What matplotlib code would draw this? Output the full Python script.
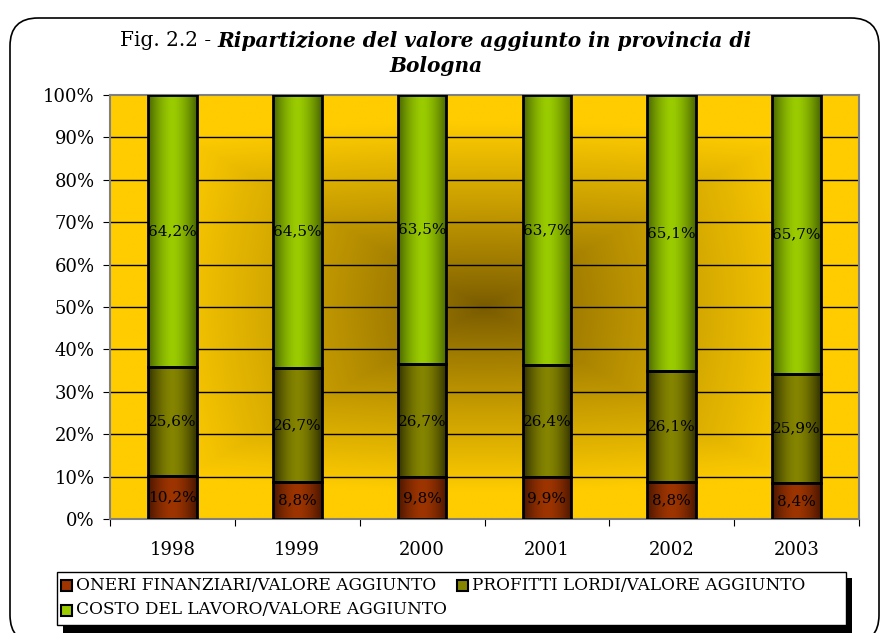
import matplotlib
matplotlib.use("Agg")
import matplotlib.pyplot as plt
import numpy as np
from matplotlib.patches import FancyBboxPatch, Rectangle
from matplotlib.colors import to_rgb

plt.rcParams["font.family"] = ["DejaVu Serif"]

YEARS = ["1998", "1999", "2000", "2001", "2002", "2003"]
ONERI = [10.2, 8.8, 9.8, 9.9, 8.8, 8.4]
PROFITTI = [25.6, 26.7, 26.7, 26.4, 26.1, 25.9]
COSTO = [64.2, 64.5, 63.5, 63.7, 65.1, 65.7]
SERIES_NAMES = [
    "ONERI FINANZIARI/VALORE AGGIUNTO",
    "PROFITTI LORDI/VALORE AGGIUNTO",
    "COSTO DEL LAVORO/VALORE AGGIUNTO",
]
# (dark edge, bright centre) for the cylinder-like shading
SERIES_COLORS = [("#4a1500", "#9e3500"), ("#333300", "#858500"), ("#4a6600", "#9acc00")]

W, H = 881, 633
fig = plt.figure(figsize=(W / 100, H / 100), dpi=100)

# canvas in pixel units for frame, title and legend
bg = fig.add_axes([0, 0, 1, 1], zorder=-1)
bg.set_xlim(0, W)
bg.set_ylim(H, 0)
bg.axis("off")
bg.add_patch(FancyBboxPatch((10, 18), 869, 625, boxstyle="round,pad=0,rounding_size=28",
                            facecolor="white", edgecolor="black", linewidth=1.2))

# title, regular + bold italic on one line
t1 = bg.text(0, 41, "Fig. 2.2 - ", fontsize=14.5, va="center", ha="left")
t2 = bg.text(0, 41, "Ripartizione del valore aggiunto in provincia di", fontsize=14.5,
             fontweight="bold", fontstyle="italic", va="center", ha="left")
bg.text(436, 66, "Bologna", fontsize=14.5, fontweight="bold", fontstyle="italic",
        va="center", ha="center")
fig.canvas.draw()
r = fig.canvas.get_renderer()
w1 = t1.get_window_extent(r).width
w2 = t2.get_window_extent(r).width
x0 = 436 - (w1 + w2) / 2
t1.set_x(x0)
t2.set_x(x0 + w1)

ax = fig.add_axes([110 / W, 1 - 519 / H, (859 - 110) / W, (519 - 95) / H])
n = len(YEARS)
ax.set_xlim(0, n)
ax.set_ylim(0, 100)

# background: rectangular gradient from dark centre to yellow edges
gx = np.linspace(-1, 1, 300)
gy = np.linspace(-1, 1, 200)
GX, GY = np.meshgrid(gx, gy)
d = 0.7 * np.maximum(np.abs(GX), np.abs(GY)) + 0.3 * np.hypot(GX, GY) / np.sqrt(2)
t = np.clip(d / 0.8, 0, 1) ** 0.9
c_mid = np.array(to_rgb("#785a00"))
c_edge = np.array(to_rgb("#ffcc00"))
img = c_mid + (c_edge - c_mid) * t[..., None]
ax.imshow(img, extent=[0, n, 0, 100], aspect="auto", zorder=0, interpolation="bilinear")

for yv in range(10, 100, 10):
    ax.axhline(yv, color="black", linewidth=1, zorder=1)

# stacked bars with horizontal shading
bw = 0.39
prof = np.linspace(0, 1, 60)
shade = 1 - np.abs(2 * prof - 1) ** 1.6
bottoms = np.zeros(n)
for vals, (dark, bright) in zip([ONERI, PROFITTI, COSTO], SERIES_COLORS):
    cd = np.array(to_rgb(dark))
    cb = np.array(to_rgb(bright))
    strip = (cd + (cb - cd) * shade[:, None])[None, :, :]
    for i, v in enumerate(vals):
        xc = i + 0.5
        ax.imshow(strip, extent=[xc - bw / 2, xc + bw / 2, bottoms[i], bottoms[i] + v],
                  aspect="auto", zorder=2, interpolation="bilinear")
        ax.text(xc, bottoms[i] + v / 2, f"{v:.1f}%".replace(".", ","), ha="center",
                va="center", fontsize=11, zorder=4)
    ax.bar(np.arange(n) + 0.5, vals, bw, bottom=bottoms, facecolor="none",
           edgecolor="black", linewidth=2, zorder=3)
    bottoms = bottoms + np.array(vals)

ax.set_xlim(0, n)
ax.set_ylim(0, 100)
ax.set_yticks(range(0, 101, 10))
ax.set_yticklabels([f"{v}%" for v in range(0, 101, 10)], fontsize=13)
ax.set_xticks(range(n + 1))
ax.set_xticklabels([])
ax.set_xticks(np.arange(n) + 0.5, minor=True)
ax.set_xticklabels(YEARS, minor=True, fontsize=13)
ax.tick_params(axis="x", which="minor", length=0, pad=16)
ax.tick_params(axis="x", which="major", length=5, direction="out")
ax.tick_params(axis="y", length=5, direction="out", pad=6)
for side in ["left", "top", "right", "bottom"]:
    ax.spines[side].set_color("#808080")
    ax.spines[side].set_linewidth(1.5)

# legend with hard black shadow
bg.add_patch(Rectangle((63, 578), 789, 55, facecolor="black", edgecolor="none"))
bg.add_patch(Rectangle((57, 572), 789, 53, facecolor="white", edgecolor="black", linewidth=1))
leg_pos = [(61, 585), (457, 585), (61, 610)]
for (lx, ly), name, (dark, bright) in zip(leg_pos, SERIES_NAMES, SERIES_COLORS):
    bg.add_patch(Rectangle((lx, ly - 5.5), 11, 11, facecolor=bright, edgecolor="black", linewidth=1.5))
    bg.text(lx + 15, ly, name, fontsize=12.2, va="center", ha="left")

fig.savefig("out.png", dpi=100)
